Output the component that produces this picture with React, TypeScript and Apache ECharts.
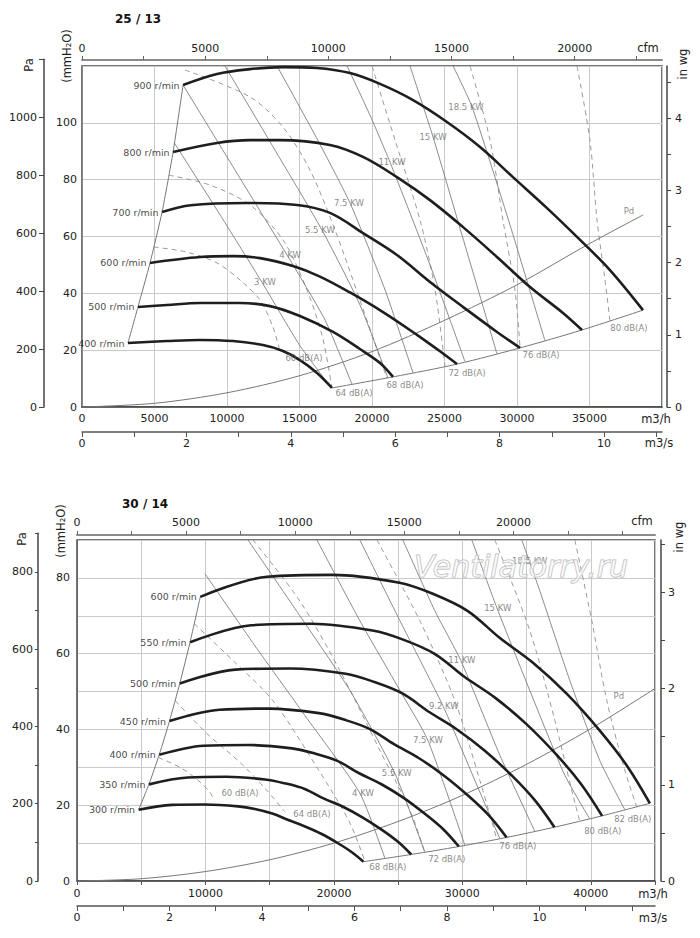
import React, { useEffect, useRef } from "react";
import * as echarts from "echarts";

const FONT = "DejaVu Sans, sans-serif";
const CFM = 1.699; // m3/h per cfm
const INWG = 25.4; // mmH2O per in wg
const PA_PER_MM = 9.80665; // Pa per mmH2O

// ================= Chart 1 : 25 / 13 =================
const title1 = "25 / 13";
const speeds1 = [400, 500, 600, 700, 800, 900];
const c1_400 = [[3170,22.5],[5860,23.2],[8140,23.6],[10410,23.2],[12480,21.8],[13860,19.7],[15030,16.5],[16210,12.0],[17240,6.7]];
const c1_500 = [[3860,35.2],[5860,35.9],[8140,36.6],[10900,36.6],[12970,35.5],[15030,32.0],[17310,26.4],[19170,20.4],[20550,15.5],[21450,10.6]];
const c1_600 = [[4690,50.7],[8140,52.8],[10410,53.1],[12280,52.4],[14550,49.6],[16410,45.9],[18480,40.3],[20760,33.4],[23100,25.4],[24690,19.6],[25860,15.1]];
const c1_700 = [[5520,68.6],[7500,71.0],[11380,71.8],[14830,71.1],[17100,68.3],[19380,61.2],[21720,53.5],[24000,44.0],[26280,35.2],[28620,26.4],[30210,20.8]];
const c1_800 = [[6280,89.7],[9310,92.9],[11590,93.9],[13660,93.9],[17100,92.2],[19380,88.0],[21720,80.9],[24000,72.8],[26280,63.3],[28620,52.8],[30900,42.2],[33170,33.1],[34480,27.1]];
const c1_900 = [[6970,113.3],[9310,117.2],[11590,118.9],[13860,119.6],[16210,119.3],[18480,117.5],[20550,113.7],[22830,108.0],[25170,100.3],[27450,91.5],[29720,80.9],[32070,70.0],[34350,58.8],[36410,48.2],[38690,34.1]];
const c1Curves = [c1_400, c1_500, c1_600, c1_700, c1_800, c1_900];
const c1Left = [[3170,22.5],[3860,35.2],[4690,50.7],[5520,68.6],[6280,89.7],[6970,113.3]];
const c1Bottom = [[17240,6.7],[21450,10.6],[25860,15.1],[30210,20.8],[34480,27.1],[38690,34.1]];
const c1Pd = [[0,0],[5000,1.3],[10000,5.0],[15000,11.0],[20000,19.5],[25000,30.5],[30000,43.0],[35000,57.5],[38700,67.6]];
const c1Kw3 = [[6370,92.9],[9400,68.6],[12400,44.0],[15000,21.8],[17200,6.7]];
const c1Kw4 = [[6970,113.3],[10550,83.4],[14140,53.5],[16760,30.6],[18620,8.0]];
const c1Kw5_5 = [[9860,120],[13310,90.4],[16550,62.3],[19170,35.9],[21100,10.2]];
const c1Kw7_5 = [[13450,120],[16070,95.7],[18480,71.8],[20900,41.2],[22830,12.0]];
const c1Kw11 = [[18280,120],[19860,102.7],[21240,86.2],[24000,50.0],[26410,16.0]];
const c1Kw15 = [[22620,120],[24210,95.0],[26410,57.0],[28620,18.7]];
const c1Kw18_5 = [[25590,120],[26900,105.6],[29520,64.0],[31930,23.3]];
const c1Power = [c1Kw3, c1Kw4, c1Kw5_5, c1Kw7_5, c1Kw11, c1Kw15, c1Kw18_5];
const c1Db60 = [[4950,56.3],[7240,54.5],[9310,50.7],[10900,44.7],[12280,37.6],[13170,28.1],[13660,19.4]];
const c1Db64 = [[5990,81.6],[8830,78.1],[11590,71.1],[13860,58.8],[15380,42.9],[16550,25.3],[17240,6.7]];
const c1Db68 = [[7100,118.6],[11590,109.1],[13860,98.5],[15720,83.4],[17450,62.3],[19170,37.6],[21030,10.1]];
const c1Db72 = [[20000,120],[21590,93.9],[23310,65.8],[24350,41.2],[25030,14.4]];
const c1Db76 = [[26760,120],[28140,93.9],[29030,65.8],[29860,41.2],[30210,20.8]];
const c1Db80 = [[34140,120],[35030,93.9],[35520,65.8],[36070,44.7],[36410,30.3]];
const c1Db = [c1Db60, c1Db64, c1Db68, c1Db72, c1Db76, c1Db80];
const c1KwLabels = [
  { t: "3 KW", q: 12620, p: 44.0 }, { t: "4 KW", q: 14350, p: 53.5 }, { t: "5.5 KW", q: 16410, p: 62.3 },
  { t: "7.5 KW", q: 18410, p: 71.8 }, { t: "11 KW", q: 21380, p: 86.2 }, { t: "15 KW", q: 24210, p: 95.0 },
  { t: "18.5 KW", q: 26480, p: 105.6 },
];
const c1DbLabels = [
  { t: "60 dB(A)", q: 15310, p: 17.2 }, { t: "64 dB(A)", q: 18760, p: 4.9 }, { t: "68 dB(A)", q: 22280, p: 7.7 },
  { t: "72 dB(A)", q: 26550, p: 12.0 }, { t: "76 dB(A)", q: 31660, p: 18.3 }, { t: "80 dB(A)", q: 37720, p: 27.8 },
  { t: "Pd", q: 37720, p: 69.0 },
];
const c1M3hLabels = [0, 5000, 10000, 15000, 20000, 25000, 30000, 35000];
const c1MmLabels = [0, 20, 40, 60, 80, 100];
const c1M3sTicks = [0, 1, 2, 3, 4, 5, 6, 7, 8, 9, 10, 11];
const c1M3sLabels = [0, 2, 4, 6, 8, 10];
const c1CfmTicks = [0, 2500, 5000, 7500, 10000, 12500, 15000, 17500, 20000, 22500];
const c1CfmLabels = [0, 5000, 10000, 15000, 20000];
const c1InwgTicks = [0, 0.5, 1, 1.5, 2, 2.5, 3, 3.5, 4, 4.5];
const c1InwgLabels = [0, 1, 2, 3, 4];
const c1PaLabels = [0, 200, 400, 600, 800, 1000];

// ================= Chart 2 : 30 / 14 =================
const title2 = "30 / 14";
const speeds2 = [300, 350, 400, 450, 500, 550, 600];
const c2_300 = [[4800,18.8],[7400,20.1],[9950,20.2],[12550,19.7],[13850,19.0],[15200,17.8],[16450,16.1],[17750,14.4],[19050,12.4],[20350,9.9],[21400,7.6],[22300,5.1]];
const c2_350 = [[5600,25.5],[8630,27.3],[11610,27.5],[14640,26.8],[16160,25.8],[17730,24.3],[19190,21.8],[20710,19.6],[22220,16.8],[23740,13.5],[24970,10.4],[26020,7.0]];
const c2_400 = [[6400,33.3],[9870,35.7],[13270,35.9],[16730,35.0],[18470,33.7],[20270,31.7],[21930,28.5],[23670,25.6],[25400,22.0],[27130,17.6],[28530,13.6],[29730,9.1]];
const c2_450 = [[7200,42.2],[11100,45.2],[14930,45.5],[18830,44.3],[20780,42.6],[22800,40.1],[24680,36.1],[26630,32.4],[28580,27.8],[30530,22.3],[32100,17.2],[33450,11.5]];
const c2_500 = [[8000,52.1],[12330,55.8],[16580,56.1],[20920,54.7],[23080,52.6],[25330,49.5],[27420,44.6],[29580,40.0],[31750,34.4],[33920,27.6],[35670,21.2],[37170,14.2]];
const c2_550 = [[8800,63.0],[13570,67.5],[18240,67.9],[23010,66.1],[25390,63.7],[27870,59.9],[30160,53.9],[32540,48.4],[34930,41.6],[37310,33.4],[39240,25.6],[40880,17.2]];
const c2_600 = [[9600,75.0],[14800,80.3],[19900,80.8],[25100,78.7],[27700,75.8],[30400,71.3],[32900,64.2],[35500,57.6],[38100,49.5],[40700,39.7],[42800,30.5],[44600,20.5]];
const c2Curves = [c2_300, c2_350, c2_400, c2_450, c2_500, c2_550, c2_600];
const c2Left = [[4800,18.8],[5600,25.5],[6400,33.3],[7200,42.2],[8000,52.1],[8800,63.0],[9600,75.0]];
const c2Bottom = [[22300,5.1],[26020,7.0],[29730,9.1],[33450,11.5],[37170,14.2],[40880,17.2],[44600,20.5]];
const c2Pd = [[0,0],[5000,0.6],[10000,2.5],[15000,5.6],[20000,10.0],[25000,15.7],[30000,22.6],[35000,30.8],[40000,40.2],[45000,50.8]];
const c2Kw4 = [[9960,81.1],[13850,62.1],[17740,43.7],[22020,23.2],[23970,6.0]];
const c2Kw5_5 = [[13310,90],[17350,70.0],[21250,50.3],[24750,28.4],[27080,7.6]];
const c2Kw7_5 = [[18680,90],[22020,68.7],[25140,50.3],[27320,37.1],[30200,9.4]];
const c2Kw9_2 = [[22020,90],[25140,68.7],[28480,46.3],[30970,26.6],[32920,11.2]];
const c2Kw11 = [[25370,90],[27860,71.3],[29880,58.2],[32920,33.2],[35640,13.1]];
const c2Kw15 = [[30740,90],[32690,72.1],[35250,50.3],[37980,27.9],[39920,16.4]];
const c2Kw18_5 = [[34630,90],[36030,76.6],[38370,52.9],[40700,31.8],[42650,18.8]];
const c2Power = [c2Kw4, c2Kw5_5, c2Kw7_5, c2Kw9_2, c2Kw11, c2Kw15, c2Kw18_5];
const c2Db60 = [[6330,32.6],[8020,30.0],[9420,26.6],[10350,23.4],[10660,21.3]];
const c2Db64 = [[7640,47.6],[10120,38.9],[12690,31.3],[14630,24.5],[16190,18.2]];
const c2Db68 = [[9130,67.9],[12140,58.2],[15250,47.6],[18680,30.0],[21250,15.3],[22410,5.2]];
const c2Db72 = [[13700,90],[17350,73.9],[20470,55.5],[23580,34.5],[25910,18.7],[27080,7.6]];
const c2Db76 = [[23350,90],[26690,68.7],[29420,47.6],[31360,26.6],[32690,11.0]];
const c2Db80 = [[32530,90],[35250,66.1],[37200,42.4],[38520,23.9],[39140,15.8]];
const c2Db82 = [[38760,90],[40080,68.7],[41250,47.6],[42650,29.2],[43580,19.6]];
const c2Db = [c2Db60, c2Db64, c2Db68, c2Db72, c2Db76, c2Db80, c2Db82];
const c2KwLabels = [
  { t: "4 KW", q: 22260, p: 23.2 }, { t: "5.5 KW", q: 24900, p: 28.4 }, { t: "7.5 KW", q: 27320, p: 37.1 },
  { t: "9.2 KW", q: 28560, p: 46.3 }, { t: "11 KW", q: 29960, p: 58.2 }, { t: "15 KW", q: 32760, p: 72.1 },
  { t: "18.5 KW", q: 35250, p: 84.5 },
];
const c2DbLabels = [
  { t: "60 dB(A)", q: 12690, p: 23.2 }, { t: "64 dB(A)", q: 18290, p: 17.6 }, { t: "68 dB(A)", q: 24200, p: 3.7 },
  { t: "72 dB(A)", q: 28790, p: 5.8 }, { t: "76 dB(A)", q: 34320, p: 9.2 }, { t: "80 dB(A)", q: 40930, p: 13.2 },
  { t: "82 dB(A)", q: 43270, p: 16.3 }, { t: "Pd", q: 42180, p: 48.7 },
];
const c2M3hLabels = [0, 10000, 20000, 30000, 40000];
const c2MmLabels = [0, 20, 40, 60, 80];
const c2M3sTicks = [0, 1, 2, 3, 4, 5, 6, 7, 8, 9, 10, 11, 12];
const c2M3sLabels = [0, 2, 4, 6, 8, 10];
const c2CfmTicks = [0, 2500, 5000, 7500, 10000, 12500, 15000, 17500, 20000, 22500, 25000];
const c2CfmLabels = [0, 5000, 10000, 15000, 20000];
const c2InwgTicks = [0, 0.5, 1, 1.5, 2, 2.5, 3, 3.5];
const c2InwgLabels = [0, 1, 2, 3];
const c2PaTicks = [0, 100, 200, 300, 400, 500, 600, 700, 800, 900];
const c2PaLabels = [0, 200, 400, 600, 800];

// ================= helpers =================
const plain = (v: number) => String(v);
const tickText = { fontFamily: FONT, fontSize: 11, color: "#222", formatter: plain };

function lineSeries(data: number[][], xi: number, yi: number, color: string, width: number, dashed = false, z = 2, smooth = 0.35) {
  return {
    type: "line", xAxisIndex: xi, yAxisIndex: yi, data, showSymbol: false, symbol: "none",
    smooth, silent: true, z,
    lineStyle: { color, width, type: dashed ? [5, 4] : "solid" },
  };
}

function labelSeries(items: { t: string; q: number; p: number }[], xi: number, yi: number) {
  return {
    type: "scatter", xAxisIndex: xi, yAxisIndex: yi, symbol: "circle", symbolSize: 1, silent: true, z: 6,
    itemStyle: { color: "rgba(0,0,0,0)" },
    label: { show: true, position: "inside", color: "#6a6a6a", fontSize: 8.5, fontFamily: FONT },
    data: items.map((it) => ({ value: [it.q, it.p], label: { formatter: it.t } })),
  };
}

function speedLabelSeries(curves: number[][][], speeds: number[], xi: number, yi: number) {
  return {
    type: "scatter", xAxisIndex: xi, yAxisIndex: yi, symbol: "circle", symbolSize: 1, silent: true, z: 6,
    itemStyle: { color: "rgba(0,0,0,0)" },
    label: { show: true, position: "left", distance: 3, color: "#111", fontSize: 9.5, fontFamily: FONT },
    data: curves.map((c, i) => ({ value: c[0], label: { formatter: `${speeds[i]} r/min` } })),
  };
}

function chartSeries(curves: number[][][], speeds: number[], left: number[][], bottom: number[][], pd: number[][],
  power: number[][][], db: number[][][], kwL: any[], dbL: any[], xi: number, yi: number) {
  const s: any[] = [];
  db.forEach((d) => s.push(lineSeries(d, xi, yi, "#9a9a9a", 1, true, 2, 0.3)));
  power.forEach((d) => s.push(lineSeries(d, xi, yi, "#6e6e6e", 0.8, false, 2, 0.2)));
  s.push(lineSeries(pd, xi, yi, "#777", 1, false, 2, 0.3));
  s.push(lineSeries(left, xi, yi, "#777", 1, false, 2, 0.2));
  s.push(lineSeries(bottom, xi, yi, "#777", 1, false, 2, 0.3));
  curves.forEach((c) => s.push(lineSeries(c, xi, yi, "#1e1e1e", 2.6, false, 4, 0.35)));
  s.push(labelSeries(kwL, xi, yi));
  s.push(labelSeries(dbL, xi, yi));
  s.push(speedLabelSeries(curves, speeds, xi, yi));
  return s;
}

function txt(text: string, x: number, y: number, opts: any = {}) {
  return {
    type: "text", x, y, rotation: opts.rotation || 0, z: 50,
    style: {
      text, fill: opts.fill || "#222", fontFamily: FONT, fontSize: opts.size || 11.5,
      fontWeight: opts.weight || "normal", fontStyle: opts.style || "normal",
      textAlign: opts.align || "center", align: opts.align || "center",
      textVerticalAlign: "middle", verticalAlign: "middle",
      stroke: opts.stroke, lineWidth: opts.lineWidth,
    },
  };
}

// geometry of plot areas (pixels)
const G1 = { left: 82, top: 66, width: 580, height: 341 };
const G2 = { left: 77, top: 540, width: 578, height: 341 };
const maxMm1 = 120;
const maxMm2 = 90;
const paMax1 = 1200;
const paMax2 = 900;
const paH1 = (G1.height * (paMax1 / PA_PER_MM)) / maxMm1;
const paH2 = (G2.height * (paMax2 / PA_PER_MM)) / maxMm2;

function buildOption() {
  const frame = { show: true, borderColor: "#4a4a4a", borderWidth: 1.5, backgroundColor: "transparent" };
  const grid = [
    { ...G1, ...frame },
    { left: 44, top: G1.top + G1.height - paH1, width: 10, height: paH1, show: false },
    { ...G2, ...frame },
    { left: 38, top: G2.top + G2.height - paH2, width: 10, height: paH2, show: false },
  ];
  const split = { show: true, lineStyle: { color: "#c9c9c9", width: 1 } };
  const xAxis = [
    { gridIndex: 0, type: "value", min: 0, max: 40000, interval: 5000, position: "bottom",
      axisLine: { show: true, onZero: false, lineStyle: { color: "#444", width: 1.5 } },
      axisTick: { show: false }, axisLabel: { ...tickText, margin: 6, customValues: c1M3hLabels }, splitLine: split },
    { gridIndex: 0, type: "value", min: 0, max: 40000 / 3600, position: "bottom", offset: 25,
      axisLine: { show: true, onZero: false, lineStyle: { color: "#555", width: 1.5 } },
      axisTick: { show: true, length: 5, customValues: c1M3sTicks, lineStyle: { color: "#555" } },
      axisLabel: { ...tickText, margin: 6, customValues: c1M3sLabels }, splitLine: { show: false } },
    { gridIndex: 0, type: "value", min: 0, max: 40000 / CFM, position: "top", offset: 6,
      axisLine: { show: true, onZero: false, lineStyle: { color: "#8a8a8a", width: 2 } },
      axisTick: { show: true, length: 4, customValues: c1CfmTicks, lineStyle: { color: "#666" } },
      axisLabel: { ...tickText, margin: 6, customValues: c1CfmLabels }, splitLine: { show: false } },
    { gridIndex: 1, type: "value", min: 0, max: 1, show: false },
    { gridIndex: 2, type: "value", min: 0, max: 45000, interval: 5000, position: "bottom",
      axisLine: { show: true, onZero: false, lineStyle: { color: "#444", width: 1.5 } },
      axisTick: { show: true, length: 4, lineStyle: { color: "#555" } },
      axisLabel: { ...tickText, margin: 7, customValues: c2M3hLabels }, splitLine: split },
    { gridIndex: 2, type: "value", min: 0, max: 45000 / 3600, position: "bottom", offset: 25,
      axisLine: { show: true, onZero: false, lineStyle: { color: "#555", width: 1.5 } },
      axisTick: { show: true, length: 5, customValues: c2M3sTicks, lineStyle: { color: "#555" } },
      axisLabel: { ...tickText, margin: 6, customValues: c2M3sLabels }, splitLine: { show: false } },
    { gridIndex: 2, type: "value", min: 0, max: 45000 / CFM, position: "top", offset: 5,
      axisLine: { show: true, onZero: false, lineStyle: { color: "#8a8a8a", width: 2 } },
      axisTick: { show: true, length: 4, customValues: c2CfmTicks, lineStyle: { color: "#666" } },
      axisLabel: { ...tickText, margin: 7, customValues: c2CfmLabels }, splitLine: { show: false } },
    { gridIndex: 3, type: "value", min: 0, max: 1, show: false },
  ];
  const yAxis = [
    { gridIndex: 0, type: "value", min: 0, max: maxMm1, interval: 20, position: "left",
      axisLine: { show: true, onZero: false, lineStyle: { color: "#888", width: 1 } }, axisTick: { show: false },
      axisLabel: { ...tickText, margin: 5, customValues: c1MmLabels }, splitLine: split },
    { gridIndex: 0, type: "value", min: 0, max: maxMm1 / INWG, position: "right", offset: 5,
      axisLine: { show: true, onZero: false, lineStyle: { color: "#444", width: 1.5 } },
      axisTick: { show: true, length: 4, customValues: c1InwgTicks, lineStyle: { color: "#444" } },
      axisLabel: { ...tickText, margin: 8, customValues: c1InwgLabels }, splitLine: { show: false } },
    { gridIndex: 1, type: "value", min: 0, max: paMax1, interval: 200, position: "left",
      axisLine: { show: true, onZero: false, lineStyle: { color: "#444", width: 1.5 } },
      axisTick: { show: true, length: 5, lineStyle: { color: "#444" } },
      axisLabel: { ...tickText, margin: 7, customValues: c1PaLabels }, splitLine: { show: false } },
    { gridIndex: 2, type: "value", min: 0, max: maxMm2, interval: 10, position: "left",
      axisLine: { show: true, onZero: false, lineStyle: { color: "#666", width: 1 } }, axisTick: { show: false },
      axisLabel: { ...tickText, margin: 7, customValues: c2MmLabels }, splitLine: split },
    { gridIndex: 2, type: "value", min: 0, max: maxMm2 / INWG, position: "right", offset: 6,
      axisLine: { show: true, onZero: false, lineStyle: { color: "#444", width: 1.5 } },
      axisTick: { show: true, length: 4, customValues: c2InwgTicks, lineStyle: { color: "#444" } },
      axisLabel: { ...tickText, margin: 7, customValues: c2InwgLabels }, splitLine: { show: false } },
    { gridIndex: 3, type: "value", min: 0, max: paMax2, interval: 100, position: "left",
      axisLine: { show: true, onZero: false, lineStyle: { color: "#444", width: 1.5 } },
      axisTick: { show: true, length: 3, customValues: c2PaTicks, lineStyle: { color: "#444" } },
      axisLabel: { ...tickText, margin: 5, customValues: c2PaLabels }, splitLine: { show: false } },
  ];
  const series = [
    ...chartSeries(c1Curves, speeds1, c1Left, c1Bottom, c1Pd, c1Power, c1Db, c1KwLabels, c1DbLabels, 0, 0),
    ...chartSeries(c2Curves, speeds2, c2Left, c2Bottom, c2Pd, c2Power, c2Db, c2KwLabels, c2DbLabels, 4, 3),
  ];
  const graphic = [
    txt(title1, 115, 19, { weight: "bold", size: 12, align: "left", fill: "#111" }),
    txt("Pa", 29, 65, { rotation: Math.PI / 2 }),
    txt("(mmH₂O)", 67, 56, { rotation: Math.PI / 2 }),
    txt("cfm", 648, 48),
    txt("in wg", 683, 64, { rotation: Math.PI / 2 }),
    txt("m3/h", 656, 419),
    txt("m3/s", 659, 443),
    txt(title2, 122, 504, { weight: "bold", size: 12, align: "left", fill: "#111" }),
    txt("Pa", 22, 539, { rotation: Math.PI / 2 }),
    txt("(mmH₂O)", 61, 531, { rotation: Math.PI / 2 }),
    txt("cfm", 642, 521),
    txt("in wg", 679, 537, { rotation: Math.PI / 2 }),
    txt("m3/h", 653, 894),
    txt("m3/s", 653, 918),
    txt("Ventilatorry.ru", 521, 566, { size: 30, style: "italic", fill: "rgba(255,255,255,0.55)", stroke: "#b5b5b5", lineWidth: 1 }),
  ];
  return {
    animation: false,
    backgroundColor: "#ffffff",
    textStyle: { fontFamily: FONT },
    grid, xAxis, yAxis, series, graphic,
  };
}

export default function App() {
  const ref = useRef<HTMLDivElement>(null);
  useEffect(() => {
    document.body.style.margin = "0";
    const chart = echarts.init(ref.current as HTMLDivElement, null, { renderer: "svg" });
    chart.setOption(buildOption() as any);
    return () => chart.dispose();
  }, []);
  return <div ref={ref} style={{ width: 700, height: 938, position: "absolute", left: 0, top: 0 }} />;
}
